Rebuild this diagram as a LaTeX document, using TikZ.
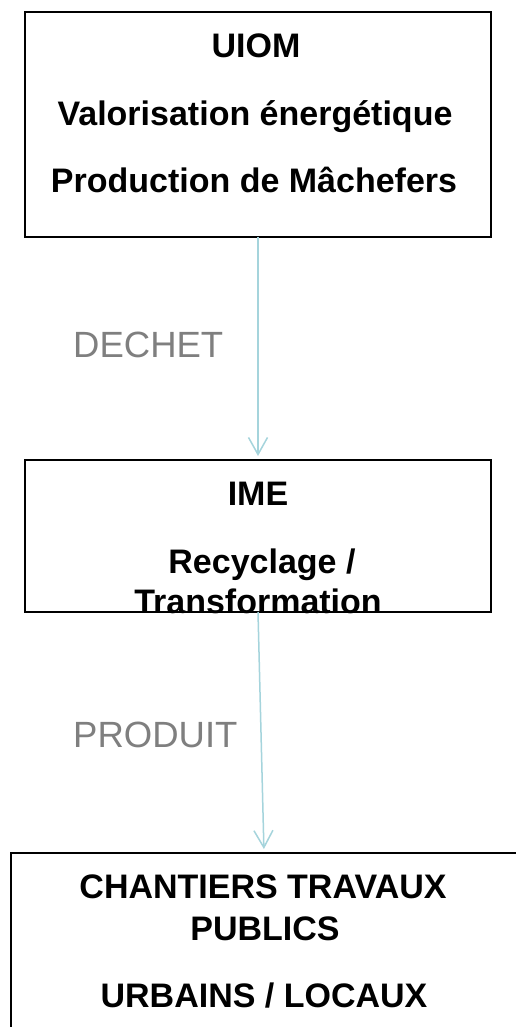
\documentclass[tikz,border=0pt]{standalone}
\usepackage{fontspec}
\setmainfont{Liberation Sans}
\usetikzlibrary{arrows.meta}
\definecolor{flowc}{RGB}{165,212,220}
\definecolor{labc}{RGB}{127,127,127}
\tikzset{
  box/.style={draw=black, line width=1.5pt, inner sep=0pt, outer sep=0pt, anchor=north west},
  boxtext/.style={anchor=base, inner sep=0pt, font=\fontsize{34}{40}\selectfont\bfseries},
  flowlabel/.style={anchor=base west, inner sep=0pt, text=labc, font=\fontsize{36.5}{42}\selectfont},
  flow/.style={draw=flowc, line width=1.5pt, -{Straight Barb[length=17pt,width=19pt]}, shorten >=4pt}
}
\begin{document}
\begin{tikzpicture}[x=1pt,y=-1pt]
\useasboundingbox (0,0) rectangle (516,1027);
\clip (0,0) rectangle (516,1027);
\fill[white] (0,0) rectangle (516,1027);
\node[box, minimum width=466pt, minimum height=225pt] (b1) at (25,12) {};
\node[box, minimum width=466pt, minimum height=152pt] (b2) at (25,460) {};
\node[box, minimum width=506pt, minimum height=192pt] (b3) at (11,853) {};
\node[boxtext] (t11) at (256,58) {UIOM};
\node[boxtext] (t12) at (255,126) {Valorisation énergétique};
\node[boxtext] (t13) at (254,193) {Production de Mâchefers};
\node[boxtext] (t21) at (258,505) {IME};
\node[boxtext] (t22) at (262,573) {Recyclage /};
\node[boxtext] (t23) at (258,613) {Transformation};
\node[boxtext] (t31) at (263,898) {CHANTIERS TRAVAUX};
\node[boxtext] (t32) at (265,940) {PUBLICS};
\node[boxtext] (t33) at (264,1007) {URBAINS / LOCAUX};
\draw[flow] (b1.south) -- (b2.north);
\draw[flow] (b2.south) -- (b3.north);
\node[flowlabel] (l1) at (73,357) {DECHET};
\node[flowlabel] (l2) at (73,747) {PRODUIT};
\end{tikzpicture}
\end{document}
